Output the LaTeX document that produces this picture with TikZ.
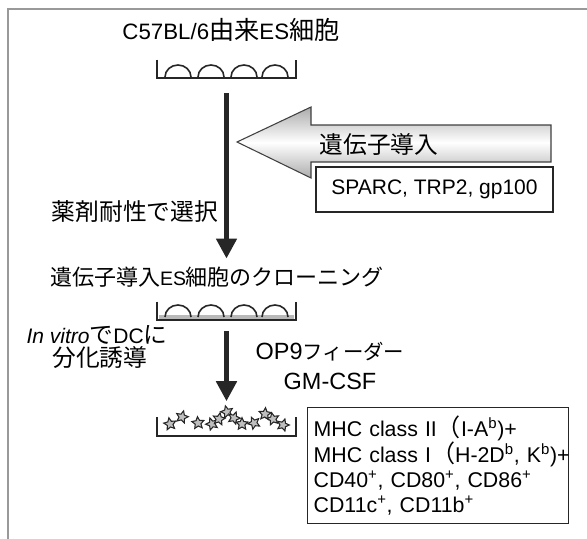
\documentclass[tikz,border=0pt]{standalone}
\usepackage{fontspec}
\setmainfont{Liberation Sans}
\newfontfamily\jp[Scale=1.13]{Noto Sans CJK JP}
\newfontfamily\jpkana[Scale=0.87]{Noto Sans CJK JP}
\usetikzlibrary{arrows.meta,shapes.geometric}

\begin{document}
\begin{tikzpicture}[x=0.75pt,y=0.75pt,
        every node/.style={font=\fontsize{15.75}{18.75}\selectfont, inner sep=2pt},
        dishbox/.style={minimum width=104.25pt, minimum height=13.5pt, inner sep=0pt},
        dishline/.style={line width=1.5pt, black!85},
        bumpline/.style={line width=1.2pt, black!85},
        downarrow/.style={line width=3.6pt, black!85, -{Triangle[length=15pt,width=15pt]}},
        cellstar/.style={star, star points=5, star point ratio=2.1, minimum size=9.5pt,
            inner sep=0pt, fill=gray!50, draw=black!85, line width=0.8pt},
        labelbox/.style={draw=black!85, line width=1pt}]
    \useasboundingbox (0,0) rectangle (587,-539);
    % frame
    \draw[gray!80, line width=1pt] (8,-539) -- (8,-9) -- (587,-9);

    % ES cells
    \node[font=\fontsize{16.7}{20}\selectfont] (es) at (231,-30) {C57BL/6{\jp 由来}ES{\jp 細胞}};
    \node[dishbox] (dishA) at (226.5,-69) {};
    \foreach \x in {178,211,244,275}
        \draw[bumpline] (\x-13,-77) arc[start angle=180, end angle=0, x radius=13, y radius=12];
    \draw[dishline] (dishA.north west) |- (dishA.south east) -- (dishA.north east);

    % transfection
    \draw[black!75, line width=0.8pt, top color=gray!65, bottom color=gray!65, middle color=white]
        (551,-125) -- (311,-125) -- (311,-107) -- (237,-142) -- (311,-178)
        -- (311,-162) -- (551,-162) -- cycle;
    \node (gene) at (379,-144) {\jp 遺伝子導入};
    \node[labelbox, minimum width=177.75pt, minimum height=33.75pt] (genes) at (434.5,-189.5)
        {SPARC, TRP2, gp100};

    \node (drug) at (135,-212) {\jp 薬剤耐性で選択};
    \node[font=\fontsize{14.6}{18}\selectfont] (clone) at (217,-277)
        {{\jp 遺伝子導入}ES{\jp 細胞のクローニング}};
    \draw[downarrow, shorten <=11pt, shorten >=4pt] (dishA.south) -- (dishA.south |- clone.north);

    % cloned cells
    \node[dishbox] (dishB) at (226.5,-311) {};
    \fill[gray!55] (159,-319) rectangle (294,-315);
    \foreach \x in {178,211,244,275}
        \draw[bumpline] (\x-13,-317) arc[start angle=180, end angle=0, x radius=13, y radius=12];
    \draw[dishline] (dishB.north west) |- (dishB.south east) -- (dishB.north east);

    \node (invitro) at (97,-335) {\textit{In vitro}{\jp で}DC{\jp に}};
    \node (diff) at (100,-358) {\jp 分化誘導};
    \node[font=\fontsize{17.6}{21}\selectfont] (op9) at (330,-352) {OP9{\jpkana フィーダー}};
    \node[font=\fontsize{17.6}{21}\selectfont] (gmcsf) at (330,-381) {GM-CSF};

    % dendritic cells
    \node[dishbox] (dishC) at (226.5,-426.5) {};
    \draw[downarrow, shorten <=8pt, shorten >=12pt] (dishB.south) -- (dishC.north);
    \draw[dishline] (dishC.north west) |- (dishC.south east) -- (dishC.north east);
    \foreach \sx/\sy/\r [count=\i] in {170/424/10, 182/417/-15, 198/423/5, 212/424/20,
            219/419/-10, 227/412/15, 234/418/-20, 242/424/0, 254/423/25,
            265/414/-5, 273/419/12, 283/425/-18}
        \node[cellstar, rotate=\r] (cell\i) at (\sx,-\sy) {};

    \node[labelbox, anchor=north west, text width=186.75pt, inner xsep=4.5pt,
        minimum height=87pt, align=left, font=\fontsize{16}{18.75}\selectfont] (markers) at (307,-407)
        {\mbox{MHC class II{\jp （}I-A\textsuperscript{b})+}\\
         \mbox{MHC class I{\jp （}H-2D\textsuperscript{b}, K\textsuperscript{b})+}\\
         \mbox{CD40\textsuperscript{+}, CD80\textsuperscript{+}, CD86\textsuperscript{+}}\\
         \mbox{CD11c\textsuperscript{+}, CD11b\textsuperscript{+}}};
\end{tikzpicture}
\end{document}
